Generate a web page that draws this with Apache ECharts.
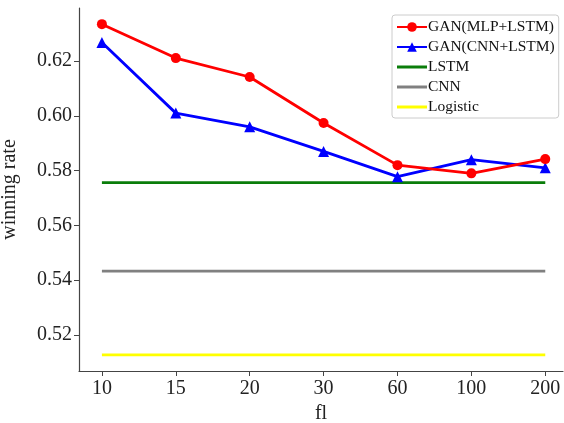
<!DOCTYPE html>
<html><head><meta charset="utf-8">
<script src="https://cdn.jsdelivr.net/npm/echarts@6/dist/echarts.min.js"></script>
<style>html,body{margin:0;padding:0;background:#fff}#c{width:564px;height:423px}</style>
</head><body><div id="c"></div>
<script>
var categories = ['10','15','20','30','60','100','200'];
var ganMlpLstm = [0.6335, 0.6211, 0.6142, 0.5974, 0.5820, 0.5790, 0.5842];
var ganCnnLstm = [0.6268, 0.6010, 0.5960, 0.5870, 0.5778, 0.5840, 0.5810];
var lstm = [0.5756, 0.5756, 0.5756, 0.5756, 0.5756, 0.5756, 0.5756];
var cnn = [0.5433, 0.5433, 0.5433, 0.5433, 0.5433, 0.5433, 0.5433];
var logistic = [0.5127, 0.5127, 0.5127, 0.5127, 0.5127, 0.5127, 0.5127];
var yTicks = [0.52, 0.54, 0.56, 0.58, 0.60, 0.62];

function pts(arr){ return arr.map(function(v,i){ return [i, v]; }); }
var F = "'Liberation Serif', 'Times New Roman', serif";
var chart = echarts.init(document.getElementById('c'));
var idx = categories.map(function(c,i){return i;});
var flatIcon = 'path://M0,0 L30,0 L30,3 L0,3 Z';
chart.setOption({
  animation:false,
  backgroundColor:'#fff',
  grid:{left:79, top:8, right:1, bottom:52, outerBoundsMode:'none', containLabel:false},
  xAxis:{type:'value', min:-0.31, max:6.24,
    name:'fl', nameLocation:'middle', nameGap:30,
    nameTextStyle:{fontFamily:F, fontSize:20, color:'#222'},
    axisLine:{onZero:false, lineStyle:{color:'#444', width:1.2}},
    axisTick:{show:true, length:5, customValues:idx, lineStyle:{color:'#444'}},
    axisLabel:{customValues:idx, fontFamily:F, fontSize:20, color:'#222', margin:8,
      formatter:function(v){ return categories[Math.round(v)]; }},
    splitLine:{show:false}},
  yAxis:{type:'value', min:0.5068, max:0.6394,
    name:'winning rate', nameLocation:'middle', nameGap:59,
    nameTextStyle:{fontFamily:F, fontSize:20, color:'#222'},
    axisLine:{show:true, onZero:false, lineStyle:{color:'#444', width:1.2}},
    axisTick:{show:true, length:5, customValues:yTicks, lineStyle:{color:'#444'}},
    axisLabel:{customValues:yTicks, fontFamily:F, fontSize:20, color:'#222', margin:7,
      formatter:function(v){ return v.toFixed(2); }},
    splitLine:{show:false}},
  legend:{left:392, top:15, orient:'vertical', itemGap:4, itemWidth:30, itemHeight:12,
    padding:[4,4,3,4],
    borderColor:'#cccccc', borderWidth:1, borderRadius:3,
    textStyle:{fontFamily:F, fontSize:15.5, color:'#111', padding:[0,0,0,-4]},
    data:['GAN(MLP+LSTM)','GAN(CNN+LSTM)',
      {name:'LSTM', icon:flatIcon},
      {name:'CNN', icon:flatIcon},
      {name:'Logistic', icon:flatIcon}]},
  series:[
    {name:'GAN(MLP+LSTM)', type:'line', data:pts(ganMlpLstm), color:'#ff0000',
      symbol:'circle', symbolSize:10, lineStyle:{width:2.8}, z:5},
    {name:'GAN(CNN+LSTM)', type:'line', data:pts(ganCnnLstm), color:'#0000ff',
      symbol:'triangle', symbolSize:11, lineStyle:{width:2.8}, z:4},
    {name:'LSTM', type:'line', data:pts(lstm), color:'#0a7d0a', symbol:'none', lineStyle:{width:2.8}},
    {name:'CNN', type:'line', data:pts(cnn), color:'#808080', symbol:'none', lineStyle:{width:2.8}},
    {name:'Logistic', type:'line', data:pts(logistic), color:'#ffff00', symbol:'none', lineStyle:{width:2.8}}
  ]
});
</script></body></html>
